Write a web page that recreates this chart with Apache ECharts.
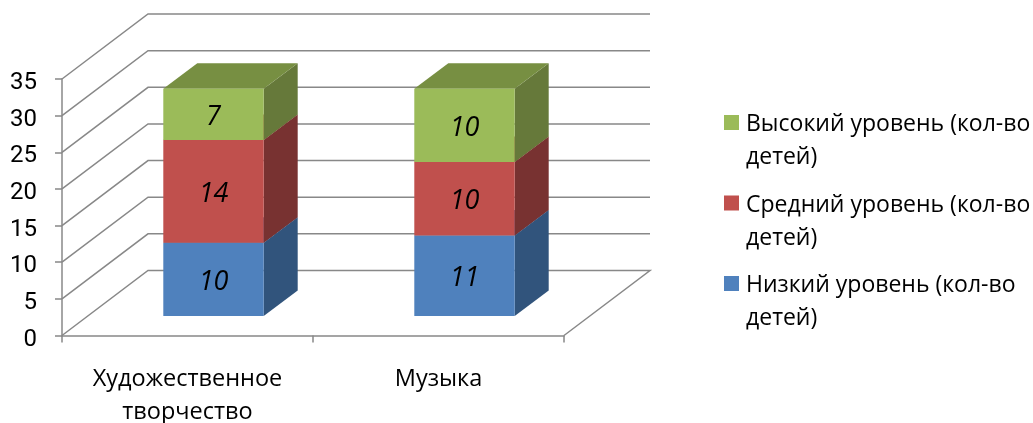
<!DOCTYPE html>
<html><head><meta charset="utf-8">
<style>html,body{margin:0;padding:0;background:#fff}#c{width:1033px;height:423px}</style>
<script src="https://cdn.jsdelivr.net/npm/echarts@6/dist/echarts.min.js"></script>
</head><body><div id="c"></div>
<script>
const categories = ['Художественное\nтворчество', 'Музыка'];
const lowValues = [10, 11];
const midValues = [14, 10];
const highValues = [7, 10];
const lowName = 'Низкий уровень (кол-во\nдетей)';
const midName = 'Средний уровень (кол-во\nдетей)';
const highName = 'Высокий уровень (кол-во\nдетей)';
const yTicks = [0, 5, 10, 15, 20, 25, 30, 35];

const FONT = 'Open Sans';
const GRID_COLOR = '#888888';
const WALL_DX = 86, WALL_DY = -65;
const BAR_SHIFT_X = 26, BAR_SHIFT_Y = -19.5;
const BAR_DX = 34, BAR_DY = -25.5;

function stacked(values, below) {
  return values.map((v, i) => [i, below[i], below[i] + v, v]);
}
const zero = categories.map(() => 0);
const lowTop = lowValues.map((v, i) => v);
const midTop = midValues.map((v, i) => v + lowTop[i]);

function barRenderer(front, side, top) {
  return function (params, api) {
    const idx = api.value(0);
    const a = api.coord([idx, api.value(1)]);
    const b = api.coord([idx, api.value(2)]);
    const w = api.size([1, 0])[0] * 0.4;
    const x0 = a[0] + BAR_SHIFT_X - w / 2, x1 = x0 + w;
    const y0 = a[1] + BAR_SHIFT_Y, y1 = b[1] + BAR_SHIFT_Y;
    return {
      type: 'group',
      children: [
        { type: 'polygon', shape: { points: [[x1, y0], [x1 + BAR_DX, y0 + BAR_DY], [x1 + BAR_DX, y1 + BAR_DY], [x1, y1]] }, style: { fill: side } },
        { type: 'polygon', shape: { points: [[x0, y1], [x1, y1], [x1 + BAR_DX, y1 + BAR_DY], [x0 + BAR_DX, y1 + BAR_DY]] }, style: { fill: top } },
        { type: 'rect', shape: { x: x0, y: y1, width: w, height: y0 - y1 }, style: { fill: front } },
        { type: 'text', x: (x0 + x1) / 2, y: (y0 + y1) / 2 + 3, style: { text: String(api.value(3)), fill: '#000', font: 'italic 27px "' + FONT + '"', align: 'center', verticalAlign: 'middle' } }
      ]
    };
  };
}
function wallRenderer(params, api) {
  const p = api.coord([0, api.value(1)]);
  const left = params.coordSys.x, right = left + params.coordSys.width;
  const pts = [[left, p[1]], [left + WALL_DX, p[1] + WALL_DY], [right + WALL_DX, p[1] + WALL_DY]];
  if (api.value(1) === 0) pts.push([right, p[1]]);
  return { type: 'polyline', shape: { points: pts }, style: { fill: 'none', stroke: GRID_COLOR, lineWidth: 1.5 } };
}
const legendIcon = 'path://M0 0H15V15H0Z M0 52L0.01 52';

const chart = echarts.init(document.getElementById('c'), null, { renderer: 'canvas' });
chart.setOption({
  animation: false,
  backgroundColor: '#fff',
  grid: { left: 62, top: 79, width: 502, height: 256.5, outerBoundsMode: 'none' },
  legend: {
    left: 724, top: 108, padding: 0, orient: 'vertical', itemWidth: 15, itemHeight: 52, itemGap: 14.5,
    selectedMode: false,
    textStyle: { fontFamily: FONT, fontSize: 23, lineHeight: 33, color: '#000', padding: [0, 0, 0, 2] },
    data: [highName, midName, lowName].map(n => ({ name: n, icon: legendIcon }))
  },
  xAxis: {
    type: 'category', data: categories,
    axisLine: { lineStyle: { color: GRID_COLOR, width: 1.5 } },
    axisTick: { show: true, length: 7, lineStyle: { color: GRID_COLOR, width: 1.5 } },
    axisLabel: { fontFamily: FONT, fontSize: 23.5, lineHeight: 33, color: '#000', margin: 27, interval: 0 },
    splitLine: { show: false }
  },
  yAxis: {
    type: 'value', min: 0, max: 35, interval: 5,
    axisLine: { show: true, lineStyle: { color: GRID_COLOR, width: 1.5 } },
    axisTick: { show: true, length: 7, lineStyle: { color: GRID_COLOR, width: 1.5 } },
    axisLabel: { fontFamily: 'Roboto', fontSize: 24, color: '#000', margin: 25, verticalAlign: 'top', lineHeight: 8 },
    splitLine: { show: false }
  },
  series: [
    { type: 'custom', name: 'walls', clip: false, silent: true, z: 1, data: yTicks.map(t => [0, t]), encode: { x: 0, y: 1 }, renderItem: wallRenderer },
    { type: 'custom', name: lowName, clip: false, z: 2, itemStyle: { color: '#4f81bd' }, data: stacked(lowValues, zero), encode: { x: 0, y: [1, 2] }, renderItem: barRenderer('#4f81bd', '#31547c', '#3f6797') },
    { type: 'custom', name: midName, clip: false, z: 3, itemStyle: { color: '#c0504d' }, data: stacked(midValues, lowTop), encode: { x: 0, y: [1, 2] }, renderItem: barRenderer('#c0504d', '#783231', '#99403e') },
    { type: 'custom', name: highName, clip: false, z: 4, itemStyle: { color: '#9bbb59' }, data: stacked(highValues, midTop), encode: { x: 0, y: [1, 2] }, renderItem: barRenderer('#9bbb59', '#66793a', '#778f42') }
  ]
});
</script></body></html>
